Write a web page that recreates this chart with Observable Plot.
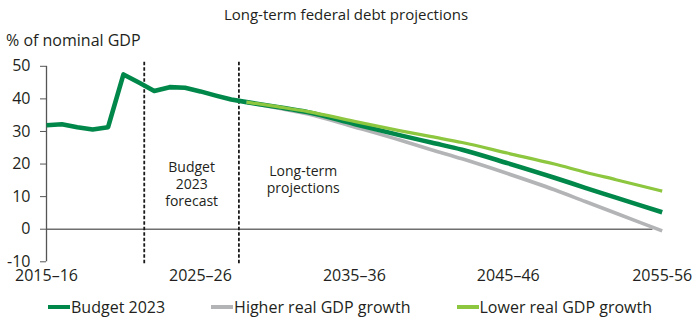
<!DOCTYPE html>
<html>
<head>
<meta charset="utf-8">
<script src="https://cdn.jsdelivr.net/npm/d3@7"></script>
<script src="https://cdn.jsdelivr.net/npm/@observablehq/plot@0.6"></script>
<style>
  html, body { margin: 0; padding: 0; background: #fff; }
  body { width: 692px; height: 320px; position: relative; overflow: hidden; font-family: "Open Sans", sans-serif; color: #231f20; }
  #title { position: absolute; top: 4px; left: 0; width: 692px; text-align: center; font-size: 15px; line-height: 20px; }
  #ylabel { position: absolute; top: 30px; left: 6px; font-size: 16px; line-height: 20px; }
  #chart { position: absolute; top: 0; left: 0; }
  #legend { position: absolute; top: 296px; left: 0; width: 692px; display: flex; justify-content: center; gap: 46px; font-size: 16px; line-height: 22px; padding-left: 8px; box-sizing: border-box; }
  .item { display: flex; align-items: center; }
  .sw { width: 22px; height: 4px; margin-right: 1px; }
</style>
</head>
<body>
<div id="chart"></div>
<div id="title">Long-term federal debt projections</div>
<div id="ylabel">% of nominal GDP</div>
<div id="legend"></div>
<script>
// ---- Data ----
const histYears  = [2015, 2016, 2017, 2018, 2019, 2020, 2021, 2022, 2023, 2024, 2025, 2026, 2027, 2028];
const histBudget = [31.9, 32.2, 31.3, 30.6, 31.3, 47.5, 45.0, 42.4, 43.6, 43.4, 42.3, 41.0, 39.8, 39.0];

const projYears   = [2028, 2030, 2032, 2035, 2038, 2040, 2042, 2045, 2048, 2050, 2052, 2055];
const projBudget  = [39.0, 37.5, 35.9, 32.3, 28.8, 26.6, 24.4, 20.2, 15.8, 12.7, 9.7, 5.2];
const projHigher  = [39.0, 37.2, 35.4, 31.4, 27.3, 24.4, 21.6, 17.0, 12.1, 8.5, 4.9, -0.5];
const projLower   = [39.0, 37.6, 36.1, 33.1, 30.2, 28.4, 26.6, 23.3, 20.0, 17.5, 15.2, 11.7];

const seriesNames  = ["Budget 2023", "Higher real GDP growth", "Lower real GDP growth"];
const seriesColors = ["#00874a", "#b3b4b6", "#8dc63f"];

const dividerYears = [2021.35, 2027.5];
const xTickYears   = [2015, 2025, 2035, 2045, 2055];
const xTickLabels  = ["2015–16", "2025–26", "2035–36", "2045–46", "2055-56"];
const yTicks       = [-10, 0, 10, 20, 30, 40, 50];

const annotations = [
  {x: 2024.43, y: 14.0, text: "Budget\n2023\nforecast"},
  {x: 2031.68, y: 15.3, text: "Long-term\nprojections"}
];

// ---- Build tables ----
const hist = histYears.map((year, i) => ({year, value: histBudget[i]}));
const mk = arr => projYears.map((year, i) => ({year, value: arr[i]}));
const pBudget = mk(projBudget), pHigher = mk(projHigher), pLower = mk(projLower);
const tickLabel = new Map(xTickYears.map((y, i) => [y, xTickLabels[i]]));

const chart = Plot.plot({
  width: 692,
  height: 292,
  marginLeft: 46,
  marginRight: 30.3,
  marginTop: 65.8,
  marginBottom: 30.7,
  style: {fontFamily: "Open Sans", fontSize: "16px", color: "#231f20", overflow: "visible"},
  x: {domain: [2015, 2055]},
  y: {domain: [-10, 50]},
  marks: [
    Plot.ruleY([0], {x1: 2015, x2: 2054.4, stroke: "#6f6f6f", strokeWidth: 1.5}),
    Plot.ruleX([2015], {y1: -10, y2: 50, stroke: "#555", strokeWidth: 1.3}),
    Plot.axisY({ticks: yTicks, tickSize: 6, tickPadding: 10, tickFormat: d => String(d), fontSize: 16, stroke: "#555", label: null}),
    Plot.axisX({ticks: xTickYears, tickSize: 0, tickPadding: 8, tickFormat: d => tickLabel.get(d), fontSize: 16, label: null}),
    Plot.ruleX(dividerYears, {y1: -10.6, y2: 51.8, stroke: "#1a1a1a", strokeWidth: 1.8, strokeDasharray: "3.5,2"}),
    Plot.text(annotations, {x: "x", y: "y", text: "text", fontSize: 14, lineHeight: 1.22, fill: "#231f20"}),
    Plot.line(pHigher, {x: "year", y: "value", stroke: seriesColors[1], strokeWidth: 3.6, curve: "monotone-x", strokeLinecap: "butt"}),
    Plot.line(pBudget, {x: "year", y: "value", stroke: seriesColors[0], strokeWidth: 4.6, curve: "monotone-x", strokeLinecap: "butt"}),
    Plot.line(hist, {x: "year", y: "value", stroke: seriesColors[0], strokeWidth: 4.6, strokeLinejoin: "round", strokeLinecap: "butt"}),
    Plot.line(pLower, {x: "year", y: "value", stroke: seriesColors[2], strokeWidth: 3.2, curve: "monotone-x", strokeLinecap: "butt"})
  ]
});
document.getElementById("chart").appendChild(chart);

const legend = document.getElementById("legend");
seriesNames.forEach((name, i) => {
  const item = document.createElement("div");
  item.className = "item";
  const sw = document.createElement("span");
  sw.className = "sw";
  sw.style.background = seriesColors[i];
  const t = document.createElement("span");
  t.textContent = name;
  item.appendChild(sw);
  item.appendChild(t);
  legend.appendChild(item);
});
</script>
</body>
</html>
